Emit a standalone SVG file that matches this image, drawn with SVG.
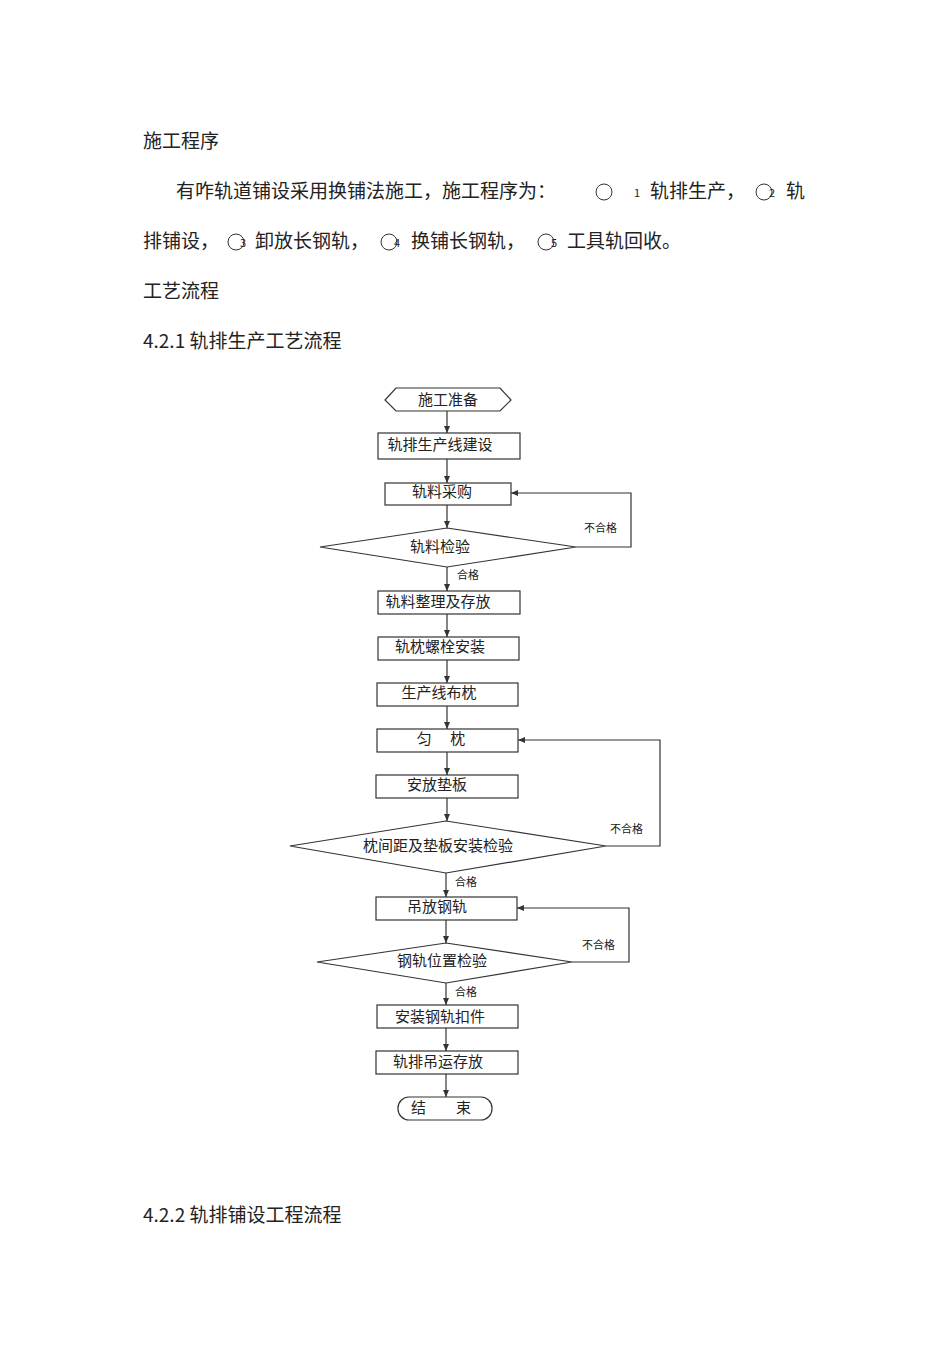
<svg xmlns="http://www.w3.org/2000/svg" width="950" height="1345" viewBox="0 0 950 1345">
<style>
.t{font-family:"Noto Sans CJK SC","Liberation Sans",sans-serif;font-size:19px;fill:#222}
.n{font-family:"Noto Sans CJK SC","Liberation Sans",sans-serif;font-size:15px;fill:#222;text-anchor:middle}
.s{font-family:"Noto Sans CJK SC","Liberation Sans",sans-serif;font-size:11px;fill:#222}
.b{fill:#fff;stroke:#333;stroke-width:1.2}
.c{fill:none;stroke:#333;stroke-width:1.2;marker-end:url(#a)}
.k{fill:none;stroke:#333;stroke-width:1}
</style>
<defs><marker id="a" markerWidth="8" markerHeight="8" refX="7" refY="4" orient="auto" markerUnits="userSpaceOnUse"><path d="M0,1 L7,4 L0,7 z" fill="#333"/></marker></defs>
<rect width="950" height="1345" fill="#fff"/>
<text class="t" x="143" y="148">施工程序</text>
<text class="t" x="176" y="198">有咋轨道铺设采用换铺法施工，施工程序为：</text>
<circle class="k" cx="604" cy="192" r="8"/><text class="s" x="634" y="197" font-size="10">1</text>
<text class="t" x="650" y="198">轨排生产，</text>
<circle class="k" cx="764" cy="192" r="8"/><text class="s" x="769" y="197" font-size="10">2</text>
<text class="t" x="786" y="198">轨</text>
<text class="t" x="143" y="248">排铺设，</text>
<circle class="k" cx="236" cy="242" r="8"/><text class="s" x="240" y="247" font-size="10">3</text>
<text class="t" x="255" y="248">卸放长钢轨，</text>
<circle class="k" cx="389" cy="242" r="8"/><text class="s" x="394" y="247" font-size="10">4</text>
<text class="t" x="411" y="248">换铺长钢轨，</text>
<circle class="k" cx="546" cy="242" r="8"/><text class="s" x="551" y="247" font-size="10">5</text>
<text class="t" x="567" y="248">工具轨回收。</text>
<text class="t" x="143" y="298">工艺流程</text>
<text class="t" x="143" y="348">4.2.1  轨排生产工艺流程</text>
<text class="t" x="143" y="1222">4.2.2   轨排铺设工程流程</text>

<g id="connectors">
<path class="c" d="M447,411 V433"/>
<path class="c" d="M447,459 V483"/>
<path class="c" d="M447,505 V528"/>
<path class="c" d="M447,567 V591"/>
<path class="c" d="M447,614 V637"/>
<path class="c" d="M447,660 V683"/>
<path class="c" d="M447,706 V729"/>
<path class="c" d="M447,752 V775"/>
<path class="c" d="M447,798 V821"/>
<path class="c" d="M446,873 V897"/>
<path class="c" d="M446,920 V943"/>
<path class="c" d="M446,983 V1005"/>
<path class="c" d="M446,1028 V1051"/>
<path class="c" d="M446,1074 V1097"/>
<path class="c" d="M576,547 H631 V493 H511"/>
<path class="c" d="M606,846 H660 V740 H518"/>
<path class="c" d="M572,962 H629 V908 H517"/>
<text class="s" x="584" y="532">不合格</text>
<text class="s" x="457" y="579">合格</text>
<text class="s" x="610" y="833">不合格</text>
<text class="s" x="455" y="886">合格</text>
<text class="s" x="582" y="949">不合格</text>
<text class="s" x="455" y="996">合格</text>
</g>

<g id="n0"><polygon class="b" points="396,388 500,388 511,400 500,411 396,411 385,400"/><text class="n" x="448" y="405">施工准备</text></g>
<g id="n1"><rect class="b" x="378" y="433" width="142" height="26"/><text class="n" x="440" y="450">轨排生产线建设</text></g>
<g id="n2"><rect class="b" x="385" y="483" width="126" height="22"/><text class="n" x="442" y="497">轨料采购</text></g>
<g id="n3"><polygon class="b" points="447,528 576,547 447,567 320,547"/><text class="n" x="440" y="552">轨料检验</text></g>
<g id="n4"><rect class="b" x="378" y="591" width="142" height="23"/><text class="n" x="438" y="607">轨料整理及存放</text></g>
<g id="n5"><rect class="b" x="378" y="637" width="141" height="23"/><text class="n" x="440" y="652">轨枕螺栓安装</text></g>
<g id="n6"><rect class="b" x="377" y="683" width="141" height="23"/><text class="n" x="439" y="698">生产线布枕</text></g>
<g id="n7"><rect class="b" x="377" y="729" width="141" height="23"/><text class="n" x="441" y="744">匀　 枕</text></g>
<g id="n8"><rect class="b" x="376" y="775" width="142" height="23"/><text class="n" x="437" y="790">安放垫板</text></g>
<g id="n9"><polygon class="b" points="446,821 606,846 446,873 290,846"/><text class="n" x="438" y="851">枕间距及垫板安装检验</text></g>
<g id="n10"><rect class="b" x="376" y="897" width="141" height="23"/><text class="n" x="437" y="912">吊放钢轨</text></g>
<g id="n11"><polygon class="b" points="446,943 572,962 446,983 317,962"/><text class="n" x="442" y="966">钢轨位置检验</text></g>
<g id="n12"><rect class="b" x="377" y="1005" width="141" height="23"/><text class="n" x="440" y="1022">安装钢轨扣件</text></g>
<g id="n13"><rect class="b" x="376" y="1051" width="142" height="23"/><text class="n" x="438" y="1067">轨排吊运存放</text></g>
<g id="n14"><rect class="b" x="398" y="1097" width="94" height="23" rx="11"/><text class="n" x="441" y="1113">结　　束</text></g>
</svg>
